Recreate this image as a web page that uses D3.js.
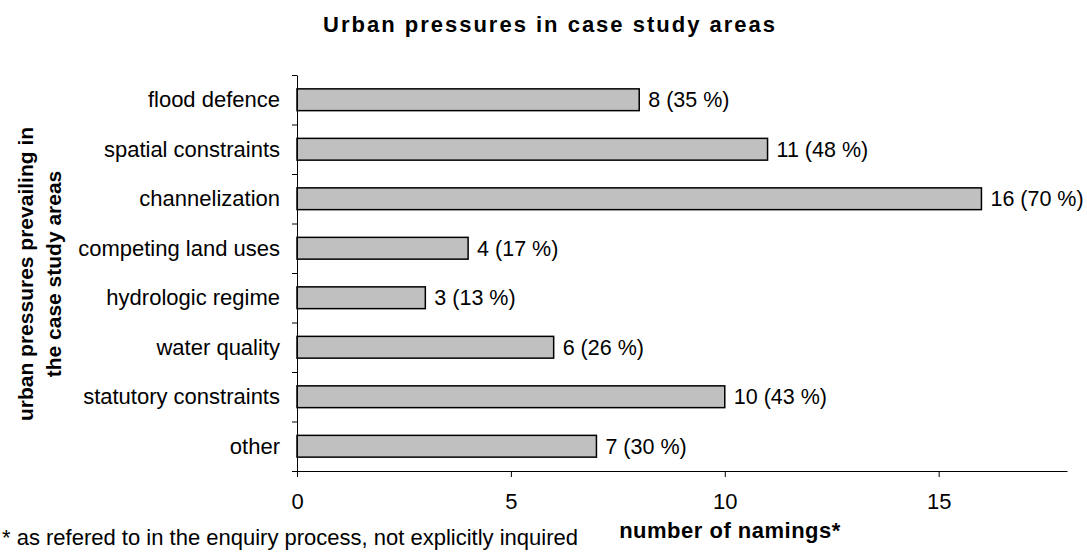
<!DOCTYPE html>
<html>
<head>
    <title>Urban pressures in case study areas</title>
    <style>
        body { margin: 0; background: #fff; font-family: "Liberation Sans", Arial, sans-serif; }
        svg { display: block; }
        .bar { fill: #c0c0c0; stroke: #000; stroke-width: 1.5px; }
        .axis path, .axis line { stroke: #000; }
        .axis text { font-size: 22px; fill: #000; font-family: "Liberation Sans", Arial, sans-serif; }
    </style>
</head>
<body>
    <svg id="chart" width="1087" height="554"></svg>
    <script src="https://d3js.org/d3.v7.min.js"></script>
    <script>
        // Data
        const categories = ["flood defence", "spatial constraints", "channelization", "competing land uses",
            "hydrologic regime", "water quality", "statutory constraints", "other"];
        const namings = [8, 11, 16, 4, 3, 6, 10, 7];
        const percents = [35, 48, 70, 17, 13, 26, 43, 30];
        const xTicks = [0, 5, 10, 15];

        const svg = d3.select("#chart");
        const plotLeft = 297, plotRight = 1067, plotTop = 75, plotBottom = 471;

        // Scales
        const x = d3.scaleLinear().domain([0, 18]).range([plotLeft, plotRight]);
        const y = d3.scaleBand().domain(categories).range([plotTop, plotBottom])
            .paddingInner(0.56).paddingOuter(0.28);
        const yEdge = d3.scaleLinear().domain([0, categories.length]).range([plotTop, plotBottom]);

        // Title
        svg.append("text")
            .attr("x", 550).attr("y", 32)
            .attr("text-anchor", "middle")
            .attr("font-size", 22).attr("font-weight", "bold")
            .attr("letter-spacing", 2)
            .text("Urban pressures in case study areas");

        // Bars
        svg.append("g").selectAll("rect")
            .data(categories)
            .enter().append("rect")
            .attr("class", "bar")
            .attr("x", x(0))
            .attr("y", d => y(d))
            .attr("width", (d, i) => x(namings[i]) - x(0))
            .attr("height", y.bandwidth());

        // Value labels
        svg.append("g").selectAll("text")
            .data(categories)
            .enter().append("text")
            .attr("x", (d, i) => x(namings[i]) + 9)
            .attr("y", d => y(d) + y.bandwidth() / 2)
            .attr("dy", "0.34em")
            .attr("font-size", 21.5)
            .text((d, i) => `${namings[i]} (${percents[i]} %)`);

        // X axis
        svg.append("g")
            .attr("class", "axis")
            .attr("transform", `translate(0,${plotBottom})`)
            .call(d3.axisBottom(x).tickValues(xTicks).tickSize(6).tickSizeOuter(0).tickPadding(16));

        // Y axis line with ticks between categories
        svg.append("g")
            .attr("class", "axis")
            .attr("transform", `translate(${plotLeft},0)`)
            .call(d3.axisLeft(yEdge).ticks(categories.length).tickSize(5).tickSizeOuter(0).tickFormat(""));

        // Category labels
        svg.append("g").selectAll("text")
            .data(categories)
            .enter().append("text")
            .attr("x", 280)
            .attr("y", d => y(d) + y.bandwidth() / 2)
            .attr("dy", "0.34em")
            .attr("text-anchor", "end")
            .attr("font-size", 22)
            .text(d => d);

        // Axis titles
        svg.append("text")
            .attr("x", 730).attr("y", 538)
            .attr("text-anchor", "middle")
            .attr("font-size", 22).attr("font-weight", "bold")
            .attr("letter-spacing", 0.5)
            .text("number of namings*");

        const yTitle = svg.append("text")
            .attr("transform", "translate(0,274) rotate(-90)")
            .attr("text-anchor", "middle")
            .attr("font-size", 21).attr("font-weight", "bold");
        yTitle.append("tspan").attr("x", 0).attr("y", 33).text("urban pressures prevailing in");
        yTitle.append("tspan").attr("x", 0).attr("y", 61).text("the case study areas");

        // Footnote
        svg.append("text")
            .attr("x", 2).attr("y", 545)
            .attr("font-size", 22)
            .text("* as refered to in the enquiry process, not explicitly inquired");
    </script>
</body>
</html>
